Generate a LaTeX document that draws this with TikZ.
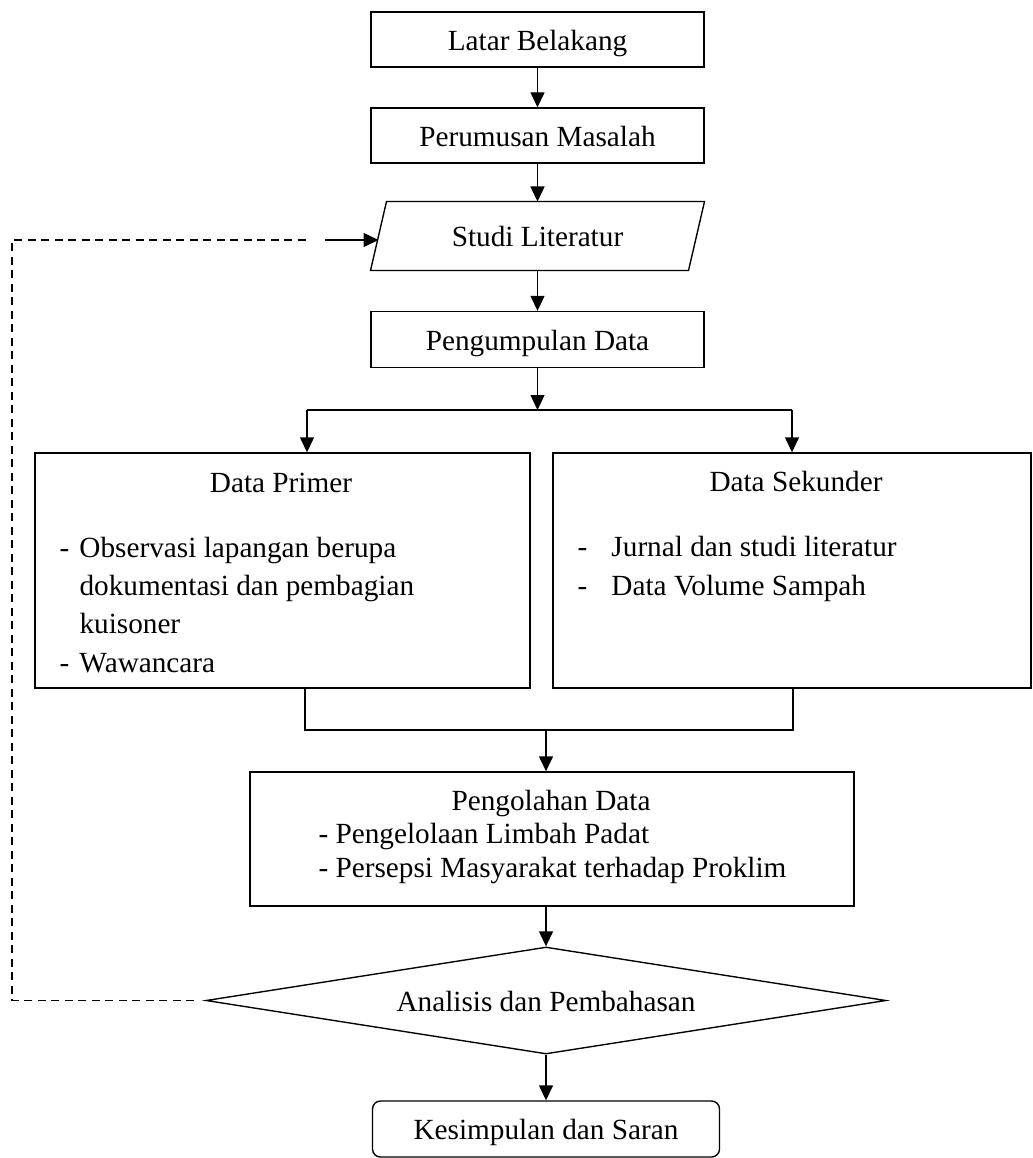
\documentclass[tikz,border=0pt]{standalone}
\usepackage{fontspec}
\setmainfont{Liberation Serif}
\usetikzlibrary{positioning,shapes.geometric,arrows.meta}

\newcommand{\itm}[1][8pt]{\makebox[#1][l]{-}}
\newcommand{\ind}{\hspace*{8pt}}

\tikzset{
  every node/.style={font=\fontsize{11.7}{15.3}\selectfont},
  centred/.style={text height=8.8pt, text depth=0.2pt},
  box/.style={draw, line width=0.55pt, centred, minimum width=333*0.4pt, minimum height=55*0.4pt, inner sep=0pt},
  iobox/.style={centred, minimum width=317*0.4pt, minimum height=68*0.4pt, inner sep=0pt},
  bigbox/.style={draw, line width=0.55pt, inner sep=0pt},
  decision/.style={draw, line width=0.55pt, diamond, aspect=6.36, centred, minimum width=680*0.4pt, minimum height=107*0.4pt, inner sep=0pt},
  endbox/.style={draw, line width=0.55pt, centred, rounded corners=3.2pt, minimum width=347*0.4pt, minimum height=56*0.4pt, inner sep=0pt},
  txt/.style={inner sep=0pt},
  arr/.style={-{Triangle[length=6pt,width=5.6pt]}, line width=0.55pt},
  link/.style={line width=0.55pt},
  fbline/.style={line width=0.55pt, dash pattern=on 3.2pt off 2.2pt}
}

\begin{document}
\begin{tikzpicture}[x=0.4pt, y=-0.4pt]
  \useasboundingbox (0,0) rectangle (1032,1158);

  % main column
  \node[box] (latar) at (537.5,39.5) {Latar Belakang};
  \node[box] (rumus) at (537.5,135.5) {Perumusan Masalah};
  \node[iobox] (studi) at (537.5,236) {Studi Literatur};
  \draw[link] ([xshift=-3.2pt]studi.south west) -- ([xshift=3.2pt]studi.north west)
    -- ([xshift=3.2pt]studi.north east) -- ([xshift=-3.2pt]studi.south east) -- cycle;
  \node[box, minimum height=56*0.4pt] (kumpul) at (537.5,339.5) {Pengumpulan Data};

  % split into the two kinds of data
  \coordinate (split) at (537.5,410);
  \coordinate (splitL) at (307,410);
  \coordinate (splitR) at (792,410);

  \node[bigbox, minimum width=495*0.4pt, minimum height=235*0.4pt] (primer) at (282.5,570.5) {};
  \node[txt, anchor=base] (primertitle) at (281,492) {Data Primer};
  \node[txt, anchor=base west, align=left] (primerlist) at (59,672)
    {\itm Observasi lapangan berupa\\ \ind dokumentasi dan pembagian\\ \ind kuisoner\\ \itm Wawancara};

  \node[bigbox, minimum width=478*0.4pt, minimum height=235*0.4pt] (sekunder) at (792,570.5) {};
  \node[txt, anchor=base] (sekundertitle) at (796,491) {Data Sekunder};
  \node[txt, anchor=base west, align=left] (sekunderlist) at (577,595)
    {\itm[13.6pt]Jurnal dan studi literatur\\ \itm[13.6pt]Data Volume Sampah};

  % processing and result
  \node[bigbox, minimum width=604*0.4pt, minimum height=134*0.4pt] (olah) at (552,839) {};
  \node[txt, anchor=base] (olahtitle) at (551,810) {Pengolahan Data};
  \node[txt, anchor=base west, align=left, font=\fontsize{11.7}{13.3}\selectfont] (olahlist) at (318,877)
    {- Pengelolaan Limbah Padat\\ - Persepsi Masyarakat terhadap Proklim};

  \node[decision] (analisis) at (546,1000.5) {Analisis dan Pembahasan};
  \node[endbox] (simpul) at (546,1129) {Kesimpulan dan Saran};

  % connectors
  \draw[arr] (latar) -- (rumus);
  \draw[arr] (rumus) -- (studi);
  \draw[arr] (studi) -- (kumpul);
  \draw[arr] (kumpul) -- (split);
  \draw[link] (splitL) -- (splitR);
  \draw[arr] (splitL) -- (splitL |- primer.north);
  \draw[arr] (splitR) -- (splitR |- sekunder.north);

  \coordinate (joinL) at (305,730);
  \coordinate (joinR) at (793,730);
  \draw[link] (joinL |- primer.south) -- (joinL) -- (joinR) -- (joinR |- sekunder.south);
  \draw[arr] (joinL -| analisis) -- (analisis |- olah.north);
  \draw[arr] (olah.south -| analisis) -- (analisis);
  \draw[arr] (analisis) -- (simpul);

  % feedback to the literature study
  \coordinate (fbcorner) at (12,240);
  \coordinate (fbend) at (307,240);
  \coordinate (fbtail) at (325,240);
  \draw[fbline] ([xshift=-4.4pt]analisis.west) -- (analisis.west -| fbcorner) -- (fbcorner) -- (fbend);
  \draw[arr] (fbtail) -- (fbtail -| studi.west);
\end{tikzpicture}
\end{document}
